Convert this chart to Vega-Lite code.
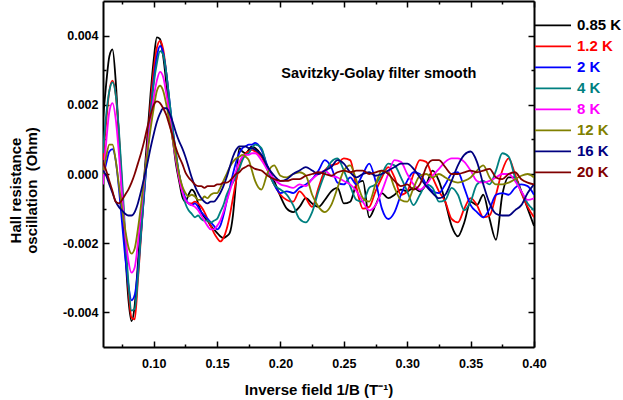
{
"$schema":"https://vega.github.io/schema/vega-lite/v6.json",
"autosize":{"type":"none"},
"width":431,"height":346,
"padding":{"left":103,"top":1,"right":89,"bottom":53},
"background":"white",
"config":{"font":"Liberation Sans","view":{"stroke":null}},
"datasets":{"curves":[
{"s":"0.85 K","x":0.06,"y":0.0016},{"s":"0.85 K","x":0.0625,"y":0.0026},{"s":"0.85 K","x":0.065,"y":0.0034},{"s":"0.85 K","x":0.0675,"y":0.0036},{"s":"0.85 K","x":0.07,"y":0.0027},{"s":"0.85 K","x":0.0725,"y":0.0011},{"s":"0.85 K","x":0.075,"y":-0.0006},{"s":"0.85 K","x":0.0775,"y":-0.0022},{"s":"0.85 K","x":0.08,"y":-0.0036},{"s":"0.85 K","x":0.0825,"y":-0.00425},{"s":"0.85 K","x":0.085,"y":-0.0038},{"s":"0.85 K","x":0.0875,"y":-0.0026},{"s":"0.85 K","x":0.09,"y":-0.0013},{"s":"0.85 K","x":0.0925,"y":-0.0001},{"s":"0.85 K","x":0.095,"y":0.0011},{"s":"0.85 K","x":0.0975,"y":0.0023},{"s":"0.85 K","x":0.1,"y":0.0033},{"s":"0.85 K","x":0.1025,"y":0.00395},{"s":"0.85 K","x":0.105,"y":0.0039},{"s":"0.85 K","x":0.1075,"y":0.0034},{"s":"0.85 K","x":0.11,"y":0.0026},{"s":"0.85 K","x":0.1125,"y":0.0017},{"s":"0.85 K","x":0.115,"y":0.001},{"s":"0.85 K","x":0.1175,"y":0.0003},{"s":"0.85 K","x":0.12,"y":-0.0002},{"s":"0.85 K","x":0.1225,"y":-0.00065},{"s":"0.85 K","x":0.125,"y":-0.0008},{"s":"0.85 K","x":0.1275,"y":-0.0006},{"s":"0.85 K","x":0.13,"y":-0.00045},{"s":"0.85 K","x":0.1325,"y":-0.00055},{"s":"0.85 K","x":0.135,"y":-0.00085},{"s":"0.85 K","x":0.1375,"y":-0.0011},{"s":"0.85 K","x":0.14,"y":-0.00125},{"s":"0.85 K","x":0.1425,"y":-0.00135},{"s":"0.85 K","x":0.145,"y":-0.0015},{"s":"0.85 K","x":0.1475,"y":-0.0016},{"s":"0.85 K","x":0.15,"y":-0.0017},{"s":"0.85 K","x":0.1525,"y":-0.0018},{"s":"0.85 K","x":0.155,"y":-0.00185},{"s":"0.85 K","x":0.1575,"y":-0.0018},{"s":"0.85 K","x":0.16,"y":-0.0017},{"s":"0.85 K","x":0.1625,"y":-0.0012},{"s":"0.85 K","x":0.165,"y":-0.0002},{"s":"0.85 K","x":0.1675,"y":0.00075},{"s":"0.85 K","x":0.17,"y":0.00065},{"s":"0.85 K","x":0.1725,"y":0.0006},{"s":"0.85 K","x":0.175,"y":0.0007},{"s":"0.85 K","x":0.1775,"y":0.0008},{"s":"0.85 K","x":0.18,"y":0.00075},
{"s":"0.85 K","x":0.185,"y":0.00055},{"s":"0.85 K","x":0.19,"y":0.0002},{"s":"0.85 K","x":0.195,"y":-0.0002},{"s":"0.85 K","x":0.2,"y":-0.00065},{"s":"0.85 K","x":0.205,"y":-0.001},{"s":"0.85 K","x":0.21,"y":-0.0011},{"s":"0.85 K","x":0.215,"y":-0.00095},{"s":"0.85 K","x":0.22,"y":-0.0007},{"s":"0.85 K","x":0.225,"y":-0.00085},{"s":"0.85 K","x":0.23,"y":-0.00095},{"s":"0.85 K","x":0.235,"y":-0.00075},{"s":"0.85 K","x":0.24,"y":-0.0005},{"s":"0.85 K","x":0.245,"y":-0.0004},{"s":"0.85 K","x":0.25,"y":-0.00085},{"s":"0.85 K","x":0.255,"y":-0.0008},{"s":"0.85 K","x":0.26,"y":-0.0003},{"s":"0.85 K","x":0.265,"y":-0.0002},{"s":"0.85 K","x":0.27,"y":-0.00125},{"s":"0.85 K","x":0.275,"y":-0.0009},{"s":"0.85 K","x":0.28,"y":-0.00055},{"s":"0.85 K","x":0.285,"y":-0.0007},{"s":"0.85 K","x":0.29,"y":-0.0006},{"s":"0.85 K","x":0.295,"y":-0.00045},{"s":"0.85 K","x":0.3,"y":-0.0005},{"s":"0.85 K","x":0.305,"y":-0.0004},{"s":"0.85 K","x":0.31,"y":-0.0005},{"s":"0.85 K","x":0.315,"y":-0.0003},{"s":"0.85 K","x":0.32,"y":0.0001},{"s":"0.85 K","x":0.325,"y":-0.0002},{"s":"0.85 K","x":0.33,"y":-0.0008},{"s":"0.85 K","x":0.335,"y":-0.0015},{"s":"0.85 K","x":0.34,"y":-0.0018},{"s":"0.85 K","x":0.345,"y":-0.0014},{"s":"0.85 K","x":0.35,"y":-0.0008},{"s":"0.85 K","x":0.355,"y":-0.0009},{"s":"0.85 K","x":0.36,"y":-0.0006},{"s":"0.85 K","x":0.365,"y":-0.0013},{"s":"0.85 K","x":0.37,"y":-0.0019},{"s":"0.85 K","x":0.375,"y":-0.0006},{"s":"0.85 K","x":0.38,"y":-0.0001},{"s":"0.85 K","x":0.385,"y":-0.0001},{"s":"0.85 K","x":0.39,"y":-0.0005},{"s":"0.85 K","x":0.395,"y":-0.001},{"s":"0.85 K","x":0.4,"y":-0.0015},
{"s":"1.2 K","x":0.06,"y":0.0004},{"s":"1.2 K","x":0.0625,"y":0.0015},{"s":"1.2 K","x":0.065,"y":0.0024},{"s":"1.2 K","x":0.0675,"y":0.0027},{"s":"1.2 K","x":0.07,"y":0.0023},{"s":"1.2 K","x":0.0725,"y":0.0012},{"s":"1.2 K","x":0.075,"y":-0.0003},{"s":"1.2 K","x":0.0775,"y":-0.0019},{"s":"1.2 K","x":0.08,"y":-0.0033},{"s":"1.2 K","x":0.0825,"y":-0.00415},{"s":"1.2 K","x":0.085,"y":-0.0042},{"s":"1.2 K","x":0.0875,"y":-0.0031},{"s":"1.2 K","x":0.09,"y":-0.0018},{"s":"1.2 K","x":0.0925,"y":-0.0005},{"s":"1.2 K","x":0.095,"y":0.0008},{"s":"1.2 K","x":0.0975,"y":0.002},{"s":"1.2 K","x":0.1,"y":0.003},{"s":"1.2 K","x":0.1025,"y":0.00365},{"s":"1.2 K","x":0.105,"y":0.00385},{"s":"1.2 K","x":0.1075,"y":0.0036},{"s":"1.2 K","x":0.11,"y":0.0029},{"s":"1.2 K","x":0.1125,"y":0.002},{"s":"1.2 K","x":0.115,"y":0.0012},{"s":"1.2 K","x":0.1175,"y":0.0005},{"s":"1.2 K","x":0.12,"y":-0.0001},{"s":"1.2 K","x":0.1225,"y":-0.0005},{"s":"1.2 K","x":0.125,"y":-0.00075},{"s":"1.2 K","x":0.1275,"y":-0.00085},{"s":"1.2 K","x":0.13,"y":-0.00085},{"s":"1.2 K","x":0.1325,"y":-0.0008},{"s":"1.2 K","x":0.135,"y":-0.00085},{"s":"1.2 K","x":0.1375,"y":-0.00095},{"s":"1.2 K","x":0.14,"y":-0.0011},{"s":"1.2 K","x":0.1425,"y":-0.0013},{"s":"1.2 K","x":0.145,"y":-0.0015},{"s":"1.2 K","x":0.1475,"y":-0.0017},{"s":"1.2 K","x":0.15,"y":-0.00185},{"s":"1.2 K","x":0.1525,"y":-0.00195},{"s":"1.2 K","x":0.155,"y":-0.00185},{"s":"1.2 K","x":0.1575,"y":-0.0016},{"s":"1.2 K","x":0.16,"y":-0.0012},{"s":"1.2 K","x":0.1625,"y":-0.0007},{"s":"1.2 K","x":0.165,"y":-0.0002},{"s":"1.2 K","x":0.1675,"y":0.0002},{"s":"1.2 K","x":0.17,"y":0.00045},{"s":"1.2 K","x":0.1725,"y":0.0006},{"s":"1.2 K","x":0.175,"y":0.00065},{"s":"1.2 K","x":0.1775,"y":0.0007},{"s":"1.2 K","x":0.18,"y":0.00065},
{"s":"1.2 K","x":0.185,"y":0.0005},{"s":"1.2 K","x":0.19,"y":0.0001},{"s":"1.2 K","x":0.195,"y":-0.0003},{"s":"1.2 K","x":0.2,"y":-0.0006},{"s":"1.2 K","x":0.205,"y":-0.00075},{"s":"1.2 K","x":0.21,"y":-0.0008},{"s":"1.2 K","x":0.215,"y":-0.0005},{"s":"1.2 K","x":0.22,"y":-0.0007},{"s":"1.2 K","x":0.225,"y":-0.00095},{"s":"1.2 K","x":0.23,"y":-0.0004},{"s":"1.2 K","x":0.235,"y":0.0001},{"s":"1.2 K","x":0.24,"y":0.00025},{"s":"1.2 K","x":0.245,"y":0.0003},{"s":"1.2 K","x":0.25,"y":0.00045},{"s":"1.2 K","x":0.255,"y":0.0004},{"s":"1.2 K","x":0.26,"y":-0.0004},{"s":"1.2 K","x":0.265,"y":-0.001},{"s":"1.2 K","x":0.27,"y":-0.00095},{"s":"1.2 K","x":0.275,"y":-0.0005},{"s":"1.2 K","x":0.28,"y":-0.0001},{"s":"1.2 K","x":0.285,"y":0.0002},{"s":"1.2 K","x":0.29,"y":-0.0001},{"s":"1.2 K","x":0.295,"y":-0.0006},{"s":"1.2 K","x":0.3,"y":-0.0005},{"s":"1.2 K","x":0.305,"y":0},{"s":"1.2 K","x":0.31,"y":0.0004},{"s":"1.2 K","x":0.315,"y":0.00035},{"s":"1.2 K","x":0.32,"y":-0.0001},{"s":"1.2 K","x":0.325,"y":-0.0005},{"s":"1.2 K","x":0.33,"y":-0.0008},{"s":"1.2 K","x":0.335,"y":-0.0013},{"s":"1.2 K","x":0.34,"y":-0.0014},{"s":"1.2 K","x":0.345,"y":-0.001},{"s":"1.2 K","x":0.35,"y":-0.0007},{"s":"1.2 K","x":0.355,"y":-0.0009},{"s":"1.2 K","x":0.36,"y":-0.00125},{"s":"1.2 K","x":0.365,"y":-0.0012},{"s":"1.2 K","x":0.37,"y":-0.0006},{"s":"1.2 K","x":0.375,"y":0.0001},{"s":"1.2 K","x":0.38,"y":0.00045},{"s":"1.2 K","x":0.385,"y":0},{"s":"1.2 K","x":0.39,"y":-0.00055},{"s":"1.2 K","x":0.395,"y":-0.00095},{"s":"1.2 K","x":0.4,"y":-0.00125},
{"s":"2 K","x":0.06,"y":-0.0001},{"s":"2 K","x":0.0625,"y":0.0003},{"s":"2 K","x":0.065,"y":0.00065},{"s":"2 K","x":0.0675,"y":0.00072},{"s":"2 K","x":0.07,"y":0.0004},{"s":"2 K","x":0.0725,"y":-0.0004},{"s":"2 K","x":0.075,"y":-0.0014},{"s":"2 K","x":0.0775,"y":-0.0024},{"s":"2 K","x":0.08,"y":-0.0032},{"s":"2 K","x":0.0825,"y":-0.00365},{"s":"2 K","x":0.085,"y":-0.0035},{"s":"2 K","x":0.0875,"y":-0.0028},{"s":"2 K","x":0.09,"y":-0.0017},{"s":"2 K","x":0.0925,"y":-0.0006},{"s":"2 K","x":0.095,"y":0.0006},{"s":"2 K","x":0.0975,"y":0.0017},{"s":"2 K","x":0.1,"y":0.0027},{"s":"2 K","x":0.1025,"y":0.0034},{"s":"2 K","x":0.105,"y":0.0037},{"s":"2 K","x":0.1075,"y":0.0035},{"s":"2 K","x":0.11,"y":0.0029},{"s":"2 K","x":0.1125,"y":0.0021},{"s":"2 K","x":0.115,"y":0.0013},{"s":"2 K","x":0.1175,"y":0.0006},{"s":"2 K","x":0.12,"y":0},{"s":"2 K","x":0.1225,"y":-0.0004},{"s":"2 K","x":0.125,"y":-0.0007},{"s":"2 K","x":0.1275,"y":-0.00085},{"s":"2 K","x":0.13,"y":-0.0009},{"s":"2 K","x":0.1325,"y":-0.00085},{"s":"2 K","x":0.135,"y":-0.00095},{"s":"2 K","x":0.1375,"y":-0.0011},{"s":"2 K","x":0.14,"y":-0.0012},{"s":"2 K","x":0.1425,"y":-0.0013},{"s":"2 K","x":0.145,"y":-0.0014},{"s":"2 K","x":0.1475,"y":-0.0015},{"s":"2 K","x":0.15,"y":-0.0016},{"s":"2 K","x":0.1525,"y":-0.0015},{"s":"2 K","x":0.155,"y":-0.0012},{"s":"2 K","x":0.1575,"y":-0.0008},{"s":"2 K","x":0.16,"y":-0.0004},{"s":"2 K","x":0.1625,"y":0},{"s":"2 K","x":0.165,"y":0.00035},{"s":"2 K","x":0.1675,"y":0.0006},{"s":"2 K","x":0.17,"y":0.00075},{"s":"2 K","x":0.1725,"y":0.0008},{"s":"2 K","x":0.175,"y":0.00085},{"s":"2 K","x":0.1775,"y":0.00085},{"s":"2 K","x":0.18,"y":0.0009},
{"s":"2 K","x":0.185,"y":0.0007},{"s":"2 K","x":0.19,"y":0.0002},{"s":"2 K","x":0.195,"y":-0.0003},{"s":"2 K","x":0.2,"y":-0.00055},{"s":"2 K","x":0.205,"y":-0.0005},{"s":"2 K","x":0.21,"y":-0.00055},{"s":"2 K","x":0.215,"y":-0.0004},{"s":"2 K","x":0.22,"y":-0.0003},{"s":"2 K","x":0.225,"y":-0.00015},{"s":"2 K","x":0.23,"y":0.0001},{"s":"2 K","x":0.235,"y":0.0004},{"s":"2 K","x":0.24,"y":0.0002},{"s":"2 K","x":0.245,"y":-0.00025},{"s":"2 K","x":0.25,"y":-0.0003},{"s":"2 K","x":0.255,"y":-0.0001},{"s":"2 K","x":0.26,"y":-0.0003},{"s":"2 K","x":0.265,"y":0},{"s":"2 K","x":0.27,"y":0.0003},{"s":"2 K","x":0.275,"y":-0.0002},{"s":"2 K","x":0.28,"y":-0.001},{"s":"2 K","x":0.285,"y":-0.0013},{"s":"2 K","x":0.29,"y":-0.0011},{"s":"2 K","x":0.295,"y":-0.0006},{"s":"2 K","x":0.3,"y":-0.0002},{"s":"2 K","x":0.305,"y":0.00005},{"s":"2 K","x":0.31,"y":0},{"s":"2 K","x":0.315,"y":-0.0003},{"s":"2 K","x":0.32,"y":-0.0005},{"s":"2 K","x":0.325,"y":-0.00055},{"s":"2 K","x":0.33,"y":-0.0003},{"s":"2 K","x":0.335,"y":0},{"s":"2 K","x":0.34,"y":0.00005},{"s":"2 K","x":0.345,"y":-0.0004},{"s":"2 K","x":0.35,"y":-0.0009},{"s":"2 K","x":0.355,"y":-0.0011},{"s":"2 K","x":0.36,"y":-0.00125},{"s":"2 K","x":0.365,"y":-0.001},{"s":"2 K","x":0.37,"y":-0.0006},{"s":"2 K","x":0.375,"y":-0.00055},{"s":"2 K","x":0.38,"y":-0.0006},{"s":"2 K","x":0.385,"y":-0.0004},{"s":"2 K","x":0.39,"y":-0.0003},{"s":"2 K","x":0.395,"y":-0.00035},{"s":"2 K","x":0.4,"y":-0.0006},
{"s":"4 K","x":0.06,"y":0.0006},{"s":"4 K","x":0.0625,"y":0.0017},{"s":"4 K","x":0.065,"y":0.0024},{"s":"4 K","x":0.0675,"y":0.00265},{"s":"4 K","x":0.07,"y":0.0023},{"s":"4 K","x":0.0725,"y":0.0013},{"s":"4 K","x":0.075,"y":-0.0001},{"s":"4 K","x":0.0775,"y":-0.0017},{"s":"4 K","x":0.08,"y":-0.0031},{"s":"4 K","x":0.0825,"y":-0.00395},{"s":"4 K","x":0.085,"y":-0.0039},{"s":"4 K","x":0.0875,"y":-0.003},{"s":"4 K","x":0.09,"y":-0.0017},{"s":"4 K","x":0.0925,"y":-0.0005},{"s":"4 K","x":0.095,"y":0.0006},{"s":"4 K","x":0.0975,"y":0.0017},{"s":"4 K","x":0.1,"y":0.0026},{"s":"4 K","x":0.1025,"y":0.0032},{"s":"4 K","x":0.105,"y":0.00355},{"s":"4 K","x":0.1075,"y":0.00345},{"s":"4 K","x":0.11,"y":0.0029},{"s":"4 K","x":0.1125,"y":0.0021},{"s":"4 K","x":0.115,"y":0.0013},{"s":"4 K","x":0.1175,"y":0.0006},{"s":"4 K","x":0.12,"y":0},{"s":"4 K","x":0.1225,"y":-0.0005},{"s":"4 K","x":0.125,"y":-0.00085},{"s":"4 K","x":0.1275,"y":-0.00105},{"s":"4 K","x":0.13,"y":-0.00115},{"s":"4 K","x":0.1325,"y":-0.00125},{"s":"4 K","x":0.135,"y":-0.0012},{"s":"4 K","x":0.1375,"y":-0.0013},{"s":"4 K","x":0.14,"y":-0.00135},{"s":"4 K","x":0.1425,"y":-0.00135},{"s":"4 K","x":0.145,"y":-0.0014},{"s":"4 K","x":0.1475,"y":-0.00135},{"s":"4 K","x":0.15,"y":-0.0013},{"s":"4 K","x":0.1525,"y":-0.0011},{"s":"4 K","x":0.155,"y":-0.0009},{"s":"4 K","x":0.1575,"y":-0.0006},{"s":"4 K","x":0.16,"y":-0.0004},{"s":"4 K","x":0.1625,"y":-0.00025},{"s":"4 K","x":0.165,"y":-0.00005},{"s":"4 K","x":0.1675,"y":0.00015},{"s":"4 K","x":0.17,"y":0.0004},{"s":"4 K","x":0.1725,"y":0.00055},{"s":"4 K","x":0.175,"y":0.0006},{"s":"4 K","x":0.1775,"y":0.00075},{"s":"4 K","x":0.18,"y":0.00085},
{"s":"4 K","x":0.185,"y":0.00075},{"s":"4 K","x":0.19,"y":0.0001},{"s":"4 K","x":0.195,"y":-0.0003},{"s":"4 K","x":0.2,"y":-0.00045},{"s":"4 K","x":0.205,"y":-0.0006},{"s":"4 K","x":0.21,"y":-0.0009},{"s":"4 K","x":0.215,"y":-0.0013},{"s":"4 K","x":0.22,"y":-0.0014},{"s":"4 K","x":0.225,"y":-0.0011},{"s":"4 K","x":0.23,"y":-0.0005},{"s":"4 K","x":0.235,"y":0},{"s":"4 K","x":0.24,"y":0.00035},{"s":"4 K","x":0.245,"y":0.00045},{"s":"4 K","x":0.25,"y":0.0001},{"s":"4 K","x":0.255,"y":-0.00035},{"s":"4 K","x":0.26,"y":-0.00075},{"s":"4 K","x":0.265,"y":-0.0008},{"s":"4 K","x":0.27,"y":-0.0004},{"s":"4 K","x":0.275,"y":-0.0003},{"s":"4 K","x":0.28,"y":0},{"s":"4 K","x":0.285,"y":0.0003},{"s":"4 K","x":0.29,"y":0.00025},{"s":"4 K","x":0.295,"y":-0.0001},{"s":"4 K","x":0.3,"y":-0.0005},{"s":"4 K","x":0.305,"y":-0.0009},{"s":"4 K","x":0.31,"y":-0.0006},{"s":"4 K","x":0.315,"y":-0.0003},{"s":"4 K","x":0.32,"y":-0.0004},{"s":"4 K","x":0.325,"y":-0.0008},{"s":"4 K","x":0.33,"y":-0.00075},{"s":"4 K","x":0.335,"y":-0.0004},{"s":"4 K","x":0.34,"y":-0.0006},{"s":"4 K","x":0.345,"y":-0.00105},{"s":"4 K","x":0.35,"y":-0.0008},{"s":"4 K","x":0.355,"y":-0.0003},{"s":"4 K","x":0.36,"y":-0.0002},{"s":"4 K","x":0.365,"y":-0.0003},{"s":"4 K","x":0.37,"y":0.0001},{"s":"4 K","x":0.375,"y":0.0006},{"s":"4 K","x":0.38,"y":0.0005},{"s":"4 K","x":0.385,"y":-0.0001},{"s":"4 K","x":0.39,"y":-0.0005},{"s":"4 K","x":0.395,"y":-0.00085},{"s":"4 K","x":0.4,"y":-0.00105},
{"s":"8 K","x":0.06,"y":-0.0003},{"s":"8 K","x":0.0625,"y":0.0009},{"s":"8 K","x":0.065,"y":0.0018},{"s":"8 K","x":0.0675,"y":0.00205},{"s":"8 K","x":0.07,"y":0.0016},{"s":"8 K","x":0.0725,"y":0.0006},{"s":"8 K","x":0.075,"y":-0.0006},{"s":"8 K","x":0.0775,"y":-0.0017},{"s":"8 K","x":0.08,"y":-0.0025},{"s":"8 K","x":0.0825,"y":-0.00285},{"s":"8 K","x":0.085,"y":-0.0027},{"s":"8 K","x":0.0875,"y":-0.002},{"s":"8 K","x":0.09,"y":-0.0011},{"s":"8 K","x":0.0925,"y":-0.0002},{"s":"8 K","x":0.095,"y":0.0007},{"s":"8 K","x":0.0975,"y":0.0015},{"s":"8 K","x":0.1,"y":0.0022},{"s":"8 K","x":0.1025,"y":0.0027},{"s":"8 K","x":0.105,"y":0.00295},{"s":"8 K","x":0.1075,"y":0.0028},{"s":"8 K","x":0.11,"y":0.0023},{"s":"8 K","x":0.1125,"y":0.0017},{"s":"8 K","x":0.115,"y":0.001},{"s":"8 K","x":0.1175,"y":0.0004},{"s":"8 K","x":0.12,"y":-0.0001},{"s":"8 K","x":0.1225,"y":-0.0005},{"s":"8 K","x":0.125,"y":-0.00075},{"s":"8 K","x":0.1275,"y":-0.00085},{"s":"8 K","x":0.13,"y":-0.0009},{"s":"8 K","x":0.1325,"y":-0.00095},{"s":"8 K","x":0.135,"y":-0.00105},{"s":"8 K","x":0.1375,"y":-0.0012},{"s":"8 K","x":0.14,"y":-0.00135},{"s":"8 K","x":0.1425,"y":-0.0015},{"s":"8 K","x":0.145,"y":-0.0016},{"s":"8 K","x":0.1475,"y":-0.0016},{"s":"8 K","x":0.15,"y":-0.0015},{"s":"8 K","x":0.1525,"y":-0.00135},{"s":"8 K","x":0.155,"y":-0.0011},{"s":"8 K","x":0.1575,"y":-0.0008},{"s":"8 K","x":0.16,"y":-0.0005},{"s":"8 K","x":0.1625,"y":-0.0002},{"s":"8 K","x":0.165,"y":0.0001},{"s":"8 K","x":0.1675,"y":0.00035},{"s":"8 K","x":0.17,"y":0.0005},{"s":"8 K","x":0.1725,"y":0.00055},{"s":"8 K","x":0.175,"y":0.00055},{"s":"8 K","x":0.1775,"y":0.0006},{"s":"8 K","x":0.18,"y":0.0006},
{"s":"8 K","x":0.185,"y":0.0004},{"s":"8 K","x":0.19,"y":0.0001},{"s":"8 K","x":0.195,"y":-0.00015},{"s":"8 K","x":0.2,"y":-0.0003},{"s":"8 K","x":0.205,"y":-0.00035},{"s":"8 K","x":0.21,"y":-0.0004},{"s":"8 K","x":0.215,"y":-0.0003},{"s":"8 K","x":0.22,"y":-0.00035},{"s":"8 K","x":0.225,"y":-0.00015},{"s":"8 K","x":0.23,"y":0},{"s":"8 K","x":0.235,"y":0.0001},{"s":"8 K","x":0.24,"y":-0.00005},{"s":"8 K","x":0.245,"y":-0.0001},{"s":"8 K","x":0.25,"y":-0.0002},{"s":"8 K","x":0.255,"y":-0.0003},{"s":"8 K","x":0.26,"y":-0.0005},{"s":"8 K","x":0.265,"y":-0.0008},{"s":"8 K","x":0.27,"y":-0.00105},{"s":"8 K","x":0.275,"y":-0.0009},{"s":"8 K","x":0.28,"y":-0.0005},{"s":"8 K","x":0.285,"y":0},{"s":"8 K","x":0.29,"y":0.0004},{"s":"8 K","x":0.295,"y":0.00035},{"s":"8 K","x":0.3,"y":0},{"s":"8 K","x":0.305,"y":-0.0003},{"s":"8 K","x":0.31,"y":-0.00045},{"s":"8 K","x":0.315,"y":-0.0003},{"s":"8 K","x":0.32,"y":-0.00005},{"s":"8 K","x":0.325,"y":0.00015},{"s":"8 K","x":0.33,"y":0.00035},{"s":"8 K","x":0.335,"y":0.00045},{"s":"8 K","x":0.34,"y":0.00045},{"s":"8 K","x":0.345,"y":0.00035},{"s":"8 K","x":0.35,"y":0.0001},{"s":"8 K","x":0.355,"y":-0.0002},{"s":"8 K","x":0.36,"y":-0.00025},{"s":"8 K","x":0.365,"y":-0.0002},{"s":"8 K","x":0.37,"y":-0.0001},{"s":"8 K","x":0.375,"y":0},{"s":"8 K","x":0.38,"y":0},{"s":"8 K","x":0.385,"y":-0.0002},{"s":"8 K","x":0.39,"y":-0.0005},{"s":"8 K","x":0.395,"y":-0.00075},{"s":"8 K","x":0.4,"y":-0.0007},
{"s":"12 K","x":0.06,"y":0},{"s":"12 K","x":0.0625,"y":0.0005},{"s":"12 K","x":0.065,"y":0.00085},{"s":"12 K","x":0.0675,"y":0.00085},{"s":"12 K","x":0.07,"y":0.0004},{"s":"12 K","x":0.0725,"y":-0.0003},{"s":"12 K","x":0.075,"y":-0.001},{"s":"12 K","x":0.0775,"y":-0.0016},{"s":"12 K","x":0.08,"y":-0.0021},{"s":"12 K","x":0.0825,"y":-0.0023},{"s":"12 K","x":0.085,"y":-0.00215},{"s":"12 K","x":0.0875,"y":-0.0016},{"s":"12 K","x":0.09,"y":-0.0009},{"s":"12 K","x":0.0925,"y":-0.0001},{"s":"12 K","x":0.095,"y":0.0006},{"s":"12 K","x":0.0975,"y":0.0013},{"s":"12 K","x":0.1,"y":0.0019},{"s":"12 K","x":0.1025,"y":0.0024},{"s":"12 K","x":0.105,"y":0.00255},{"s":"12 K","x":0.1075,"y":0.0024},{"s":"12 K","x":0.11,"y":0.002},{"s":"12 K","x":0.1125,"y":0.0015},{"s":"12 K","x":0.115,"y":0.001},{"s":"12 K","x":0.1175,"y":0.0005},{"s":"12 K","x":0.12,"y":0},{"s":"12 K","x":0.1225,"y":-0.00035},{"s":"12 K","x":0.125,"y":-0.00055},{"s":"12 K","x":0.1275,"y":-0.00065},{"s":"12 K","x":0.13,"y":-0.0006},{"s":"12 K","x":0.1325,"y":-0.00065},{"s":"12 K","x":0.135,"y":-0.00075},{"s":"12 K","x":0.1375,"y":-0.00075},{"s":"12 K","x":0.14,"y":-0.00065},{"s":"12 K","x":0.1425,"y":-0.0007},{"s":"12 K","x":0.145,"y":-0.0006},{"s":"12 K","x":0.1475,"y":-0.00055},{"s":"12 K","x":0.15,"y":-0.00055},{"s":"12 K","x":0.1525,"y":-0.0004},{"s":"12 K","x":0.155,"y":-0.0002},{"s":"12 K","x":0.1575,"y":0},{"s":"12 K","x":0.16,"y":0.0002},{"s":"12 K","x":0.1625,"y":0.00035},{"s":"12 K","x":0.165,"y":0.00045},{"s":"12 K","x":0.1675,"y":0.0005},{"s":"12 K","x":0.17,"y":0.00055},{"s":"12 K","x":0.1725,"y":0.0005},{"s":"12 K","x":0.175,"y":0.0004},{"s":"12 K","x":0.1775,"y":0.0001},{"s":"12 K","x":0.18,"y":-0.0002},
{"s":"12 K","x":0.185,"y":-0.00045},{"s":"12 K","x":0.19,"y":0.00005},{"s":"12 K","x":0.195,"y":0.00025},{"s":"12 K","x":0.2,"y":-0.00005},{"s":"12 K","x":0.205,"y":-0.0001},{"s":"12 K","x":0.21,"y":0},{"s":"12 K","x":0.215,"y":0.00005},{"s":"12 K","x":0.22,"y":-0.00005},{"s":"12 K","x":0.225,"y":-0.0006},{"s":"12 K","x":0.23,"y":-0.00095},{"s":"12 K","x":0.235,"y":-0.0011},{"s":"12 K","x":0.24,"y":-0.0009},{"s":"12 K","x":0.245,"y":-0.0004},{"s":"12 K","x":0.25,"y":0.0001},{"s":"12 K","x":0.255,"y":0.00025},{"s":"12 K","x":0.26,"y":-0.0002},{"s":"12 K","x":0.265,"y":-0.0007},{"s":"12 K","x":0.27,"y":-0.0008},{"s":"12 K","x":0.275,"y":-0.0003},{"s":"12 K","x":0.28,"y":0.0001},{"s":"12 K","x":0.285,"y":0.00005},{"s":"12 K","x":0.29,"y":-0.0004},{"s":"12 K","x":0.295,"y":-0.00075},{"s":"12 K","x":0.3,"y":-0.0008},{"s":"12 K","x":0.305,"y":-0.0004},{"s":"12 K","x":0.31,"y":-0.00005},{"s":"12 K","x":0.315,"y":0},{"s":"12 K","x":0.32,"y":-0.0001},{"s":"12 K","x":0.325,"y":0},{"s":"12 K","x":0.33,"y":-0.0001},{"s":"12 K","x":0.335,"y":-0.0002},{"s":"12 K","x":0.34,"y":-0.00025},{"s":"12 K","x":0.345,"y":-0.0002},{"s":"12 K","x":0.35,"y":-0.0001},{"s":"12 K","x":0.355,"y":0.0001},{"s":"12 K","x":0.36,"y":0.00025},{"s":"12 K","x":0.365,"y":-0.0001},{"s":"12 K","x":0.37,"y":-0.0003},{"s":"12 K","x":0.375,"y":-0.0003},{"s":"12 K","x":0.38,"y":-0.00025},{"s":"12 K","x":0.385,"y":-0.00015},{"s":"12 K","x":0.39,"y":-0.00005},{"s":"12 K","x":0.395,"y":0},{"s":"12 K","x":0.4,"y":-0.0001},
{"s":"16 K","x":0.06,"y":0.0001},{"s":"16 K","x":0.0625,"y":-0.00005},{"s":"16 K","x":0.065,"y":-0.0003},{"s":"16 K","x":0.0675,"y":-0.00055},{"s":"16 K","x":0.07,"y":-0.0008},{"s":"16 K","x":0.0725,"y":-0.00095},{"s":"16 K","x":0.075,"y":-0.00105},{"s":"16 K","x":0.0775,"y":-0.00115},{"s":"16 K","x":0.08,"y":-0.0012},{"s":"16 K","x":0.0825,"y":-0.0012},{"s":"16 K","x":0.085,"y":-0.0011},{"s":"16 K","x":0.0875,"y":-0.00085},{"s":"16 K","x":0.09,"y":-0.0005},{"s":"16 K","x":0.0925,"y":-0.0001},{"s":"16 K","x":0.095,"y":0.0003},{"s":"16 K","x":0.0975,"y":0.00075},{"s":"16 K","x":0.1,"y":0.00115},{"s":"16 K","x":0.1025,"y":0.0015},{"s":"16 K","x":0.105,"y":0.00175},{"s":"16 K","x":0.1075,"y":0.0019},{"s":"16 K","x":0.11,"y":0.0019},{"s":"16 K","x":0.1125,"y":0.00175},{"s":"16 K","x":0.115,"y":0.0015},{"s":"16 K","x":0.1175,"y":0.0012},{"s":"16 K","x":0.12,"y":0.00095},{"s":"16 K","x":0.1225,"y":0.00075},{"s":"16 K","x":0.125,"y":0.0005},{"s":"16 K","x":0.1275,"y":0.0002},{"s":"16 K","x":0.13,"y":-0.0001},{"s":"16 K","x":0.1325,"y":-0.00035},{"s":"16 K","x":0.135,"y":-0.00055},{"s":"16 K","x":0.1375,"y":-0.0007},{"s":"16 K","x":0.14,"y":-0.0008},{"s":"16 K","x":0.1425,"y":-0.00085},{"s":"16 K","x":0.145,"y":-0.0008},{"s":"16 K","x":0.1475,"y":-0.0008},{"s":"16 K","x":0.15,"y":-0.0007},{"s":"16 K","x":0.1525,"y":-0.00055},{"s":"16 K","x":0.155,"y":-0.00035},{"s":"16 K","x":0.1575,"y":-0.0001},{"s":"16 K","x":0.16,"y":0.0002},{"s":"16 K","x":0.1625,"y":0.0005},{"s":"16 K","x":0.165,"y":0.0007},{"s":"16 K","x":0.1675,"y":0.0008},{"s":"16 K","x":0.17,"y":0.0008},{"s":"16 K","x":0.1725,"y":0.0008},{"s":"16 K","x":0.175,"y":0.00075},{"s":"16 K","x":0.1775,"y":0.00075},{"s":"16 K","x":0.18,"y":0.0007},
{"s":"16 K","x":0.185,"y":0.00055},{"s":"16 K","x":0.19,"y":0.0002},{"s":"16 K","x":0.195,"y":-0.00005},{"s":"16 K","x":0.2,"y":-0.0002},{"s":"16 K","x":0.205,"y":-0.00015},{"s":"16 K","x":0.21,"y":0},{"s":"16 K","x":0.215,"y":0.0001},{"s":"16 K","x":0.22,"y":0.0002},{"s":"16 K","x":0.225,"y":0.0001},{"s":"16 K","x":0.23,"y":0},{"s":"16 K","x":0.235,"y":0.0001},{"s":"16 K","x":0.24,"y":0.0002},{"s":"16 K","x":0.245,"y":0.0004},{"s":"16 K","x":0.25,"y":0.0003},{"s":"16 K","x":0.255,"y":0.00005},{"s":"16 K","x":0.26,"y":-0.0001},{"s":"16 K","x":0.265,"y":0},{"s":"16 K","x":0.27,"y":0.00005},{"s":"16 K","x":0.275,"y":-0.00005},{"s":"16 K","x":0.28,"y":0},{"s":"16 K","x":0.285,"y":0.0001},{"s":"16 K","x":0.29,"y":0.0002},{"s":"16 K","x":0.295,"y":0.0003},{"s":"16 K","x":0.3,"y":0.0003},{"s":"16 K","x":0.305,"y":0.00015},{"s":"16 K","x":0.31,"y":-0.0001},{"s":"16 K","x":0.315,"y":-0.00035},{"s":"16 K","x":0.32,"y":-0.00055},{"s":"16 K","x":0.325,"y":-0.0007},{"s":"16 K","x":0.33,"y":-0.0006},{"s":"16 K","x":0.335,"y":-0.0002},{"s":"16 K","x":0.34,"y":0.00025},{"s":"16 K","x":0.345,"y":0.00055},{"s":"16 K","x":0.35,"y":0.00065},{"s":"16 K","x":0.355,"y":0.00035},{"s":"16 K","x":0.36,"y":-0.0003},{"s":"16 K","x":0.365,"y":-0.00085},{"s":"16 K","x":0.37,"y":-0.00115},{"s":"16 K","x":0.375,"y":-0.0012},{"s":"16 K","x":0.38,"y":-0.0012},{"s":"16 K","x":0.385,"y":-0.00105},{"s":"16 K","x":0.39,"y":-0.0009},{"s":"16 K","x":0.395,"y":-0.00055},{"s":"16 K","x":0.4,"y":-0.0003},
{"s":"20 K","x":0.06,"y":0.00035},{"s":"20 K","x":0.0625,"y":0.0001},{"s":"20 K","x":0.065,"y":-0.0002},{"s":"20 K","x":0.0675,"y":-0.0005},{"s":"20 K","x":0.07,"y":-0.0008},{"s":"20 K","x":0.0725,"y":-0.00085},{"s":"20 K","x":0.075,"y":-0.00075},{"s":"20 K","x":0.0775,"y":-0.0006},{"s":"20 K","x":0.08,"y":-0.00045},{"s":"20 K","x":0.0825,"y":-0.00025},{"s":"20 K","x":0.085,"y":0},{"s":"20 K","x":0.0875,"y":0.0003},{"s":"20 K","x":0.09,"y":0.0006},{"s":"20 K","x":0.0925,"y":0.00095},{"s":"20 K","x":0.095,"y":0.00135},{"s":"20 K","x":0.0975,"y":0.0017},{"s":"20 K","x":0.1,"y":0.002},{"s":"20 K","x":0.1025,"y":0.0021},{"s":"20 K","x":0.105,"y":0.00205},{"s":"20 K","x":0.1075,"y":0.0019},{"s":"20 K","x":0.11,"y":0.0017},{"s":"20 K","x":0.1125,"y":0.0014},{"s":"20 K","x":0.115,"y":0.0011},{"s":"20 K","x":0.1175,"y":0.00075},{"s":"20 K","x":0.12,"y":0.0005},{"s":"20 K","x":0.1225,"y":0.0003},{"s":"20 K","x":0.125,"y":0.00005},{"s":"20 K","x":0.1275,"y":-0.0001},{"s":"20 K","x":0.13,"y":-0.0002},{"s":"20 K","x":0.1325,"y":-0.0003},{"s":"20 K","x":0.135,"y":-0.00035},{"s":"20 K","x":0.1375,"y":-0.00035},{"s":"20 K","x":0.14,"y":-0.0004},{"s":"20 K","x":0.1425,"y":-0.00035},{"s":"20 K","x":0.145,"y":-0.00035},{"s":"20 K","x":0.1475,"y":-0.00035},{"s":"20 K","x":0.15,"y":-0.0003},{"s":"20 K","x":0.1525,"y":-0.0003},{"s":"20 K","x":0.155,"y":-0.00025},{"s":"20 K","x":0.1575,"y":-0.00025},{"s":"20 K","x":0.16,"y":-0.0002},{"s":"20 K","x":0.1625,"y":-0.0001},{"s":"20 K","x":0.165,"y":0},{"s":"20 K","x":0.1675,"y":0.00005},{"s":"20 K","x":0.17,"y":0.00015},{"s":"20 K","x":0.1725,"y":0.0002},{"s":"20 K","x":0.175,"y":0.00025},{"s":"20 K","x":0.1775,"y":0.0002},{"s":"20 K","x":0.18,"y":0.00015},
{"s":"20 K","x":0.185,"y":0.0001},{"s":"20 K","x":0.19,"y":-0.00005},{"s":"20 K","x":0.195,"y":-0.00015},{"s":"20 K","x":0.2,"y":-0.0002},{"s":"20 K","x":0.205,"y":-0.0002},{"s":"20 K","x":0.21,"y":-0.00015},{"s":"20 K","x":0.215,"y":-0.00015},{"s":"20 K","x":0.22,"y":-0.00005},{"s":"20 K","x":0.225,"y":0},{"s":"20 K","x":0.23,"y":0.00005},{"s":"20 K","x":0.235,"y":0},{"s":"20 K","x":0.24,"y":-0.00005},{"s":"20 K","x":0.245,"y":0.00005},{"s":"20 K","x":0.25,"y":0.0001},{"s":"20 K","x":0.255,"y":0.00005},{"s":"20 K","x":0.26,"y":0.0001},{"s":"20 K","x":0.265,"y":0.0001},{"s":"20 K","x":0.27,"y":0},{"s":"20 K","x":0.275,"y":0.00005},{"s":"20 K","x":0.28,"y":0.0001},{"s":"20 K","x":0.285,"y":0},{"s":"20 K","x":0.29,"y":-0.0002},{"s":"20 K","x":0.295,"y":-0.00035},{"s":"20 K","x":0.3,"y":-0.0003},{"s":"20 K","x":0.305,"y":-0.00045},{"s":"20 K","x":0.31,"y":-0.0003},{"s":"20 K","x":0.315,"y":0.0002},{"s":"20 K","x":0.32,"y":0.0004},{"s":"20 K","x":0.325,"y":0.0004},{"s":"20 K","x":0.33,"y":0.0002},{"s":"20 K","x":0.335,"y":0},{"s":"20 K","x":0.34,"y":0},{"s":"20 K","x":0.345,"y":0.00005},{"s":"20 K","x":0.35,"y":0.0001},{"s":"20 K","x":0.355,"y":0.00005},{"s":"20 K","x":0.36,"y":0.0001},{"s":"20 K","x":0.365,"y":0.00015},{"s":"20 K","x":0.37,"y":-0.0001},{"s":"20 K","x":0.375,"y":-0.00015},{"s":"20 K","x":0.38,"y":0},{"s":"20 K","x":0.385,"y":0.00005},{"s":"20 K","x":0.39,"y":-0.00015},{"s":"20 K","x":0.395,"y":-0.00025},{"s":"20 K","x":0.4,"y":-0.0003}
],
"note":[{"x":0.2776,"y":0.00288,"label":"Savitzky-Golay filter smooth"}]},
"layer":[
{"data":{"name":"curves"},
"mark":{"type":"line","strokeWidth":1.8,"interpolate":"monotone","clip":true},
"encoding":{
"x":{"field":"x","type":"quantitative","scale":{"domain":[0.06,0.4],"nice":false,"zero":false},
"axis":{"orient":"bottom","title":"Inverse field 1/B (T⁻¹)","values":[0.075,0.1,0.125,0.15,0.175,0.2,0.225,0.25,0.275,0.3,0.325,0.35,0.375,0.4],
"labelExpr":"round(datum.value*40)%2==1 ? '' : format(datum.value,'.2f')",
"tickSize":{"condition":{"test":"round(datum.value*40)%2==1","value":-3},"value":-6},
"labelPadding":16,"labelFontSize":12.5,"labelFontWeight":"bold","labelColor":"black","labelFlush":false,
"domainColor":"black","domainWidth":2,"tickColor":"black","tickWidth":1.5,"grid":false,
"titleFontSize":15,"titleFontWeight":"bold","titleColor":"black","titleY":42,"titleBaseline":"middle"}},
"y":{"field":"y","type":"quantitative","scale":{"domain":[-0.005,0.005],"nice":false,"zero":false},
"axis":{"orient":"left","title":["Hall resistance","oscillation\u00a0 (Ohm)"],"values":[-0.004,-0.003,-0.002,-0.001,0,0.001,0.002,0.003,0.004],
"labelExpr":"abs(round(datum.value*1000))%2==1 ? '' : replace(format(datum.value,'.3f'),'\u2212','-')",
"tickSize":{"condition":{"test":"abs(round(datum.value*1000))%2==1","value":-3},"value":-6},
"labelPadding":11,"labelFontSize":12.5,"labelFontWeight":"bold","labelColor":"black","labelFlush":false,
"domainColor":"black","domainWidth":2,"tickColor":"black","tickWidth":1.5,"grid":false,
"titleFontSize":15,"titleFontWeight":"bold","titleColor":"black","titleAngle":-90,"titleX":-88,"titleY":189,"titleBaseline":"middle","titleAlign":"center","titleLineHeight":16}},
"color":{"field":"s","type":"nominal","scale":{"domain":["0.85 K","1.2 K","2 K","4 K","8 K","12 K","16 K","20 K"],"range":["#000000","#FF0000","#0000FF","#008080","#FF00FF","#808000","#000080","#800000"]},
"legend":{"orient":"none","legendX":431,"legendY":14,"title":null,"padding":0,"symbolType":"stroke","symbolSize":1296,"symbolStrokeWidth":1.8,"clipHeight":20.7,"rowPadding":0,"labelFontSize":15,"labelFontWeight":"bold","labelOffset":5,
"encode":{"labels":{"update":{"fill":{"scale":"color","field":"value"}}}}}}
}},
{"data":{"name":"note"},
"mark":{"type":"text","fontSize":14.5,"fontWeight":"bold","color":"black"},
"encoding":{
"x":{"field":"x","type":"quantitative","scale":{"domain":[0.06,0.4],"nice":false,"zero":false},
"axis":{"orient":"top","title":null,"labels":false,"values":[0.075,0.1,0.125,0.15,0.175,0.2,0.225,0.25,0.275,0.3,0.325,0.35,0.375,0.4],
"tickSize":{"condition":{"test":"round(datum.value*40)%2==1","value":-3},"value":-6},
"domainColor":"black","domainWidth":2,"tickColor":"black","tickWidth":1.5,"grid":false}},
"y":{"field":"y","type":"quantitative","scale":{"domain":[-0.005,0.005],"nice":false,"zero":false},
"axis":{"orient":"right","title":null,"labels":false,"values":[-0.004,-0.003,-0.002,-0.001,0,0.001,0.002,0.003,0.004],
"tickSize":{"condition":{"test":"abs(round(datum.value*1000))%2==1","value":-3},"value":-6},
"domainColor":"black","domainWidth":2,"tickColor":"black","tickWidth":1.5,"grid":false}},
"text":{"field":"label"}}}
],
"resolve":{"axis":{"x":"independent","y":"independent"}}
}
